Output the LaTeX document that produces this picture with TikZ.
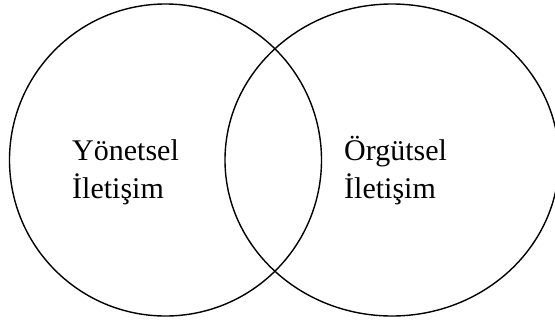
\documentclass[tikz,border=0pt]{standalone}
\usepackage{fontspec}
\setmainfont{Liberation Serif}
\usetikzlibrary{positioning, shapes.geometric}

\begin{document}
\begin{tikzpicture}[
    x=1pt, y=-1pt,
    set/.style={
        draw=black,
        line width=1.4pt,
        inner sep=0pt
    },
    setname/.style={
        align=left,
        inner sep=0pt,
        font=\fontsize{30}{37.5}\selectfont
    }
]

\useasboundingbox (0,0) rectangle (555,322);

\node[set, circle, minimum size=312pt] (yonetsel) at (165.5,160) {};
\node[set, ellipse, minimum width=334pt, minimum height=312pt] (orgutsel) at (392,160) {};

\node[setname, anchor=base west] (yonetselname) at (72,198) {Yönetsel\\İletişim};
\node[setname, anchor=base west] (orgutselname) at (344,198) {Örgütsel\\İletişim};

\end{tikzpicture}
\end{document}
